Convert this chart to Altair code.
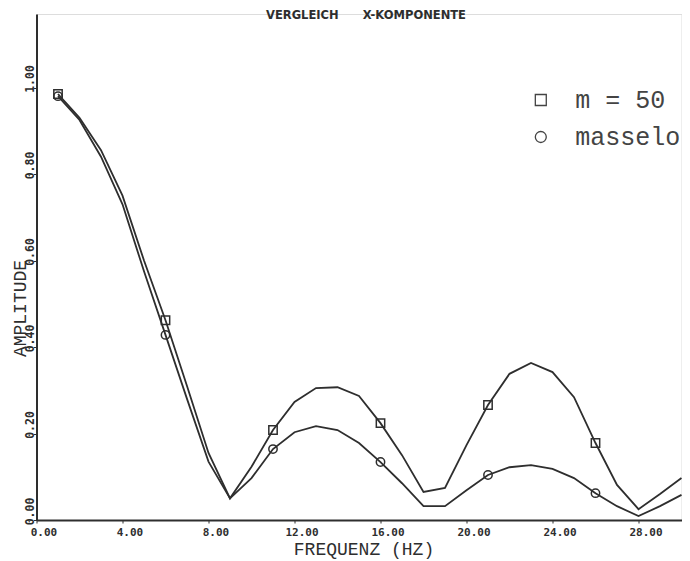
import altair as alt
import pandas as pd

# ---- data ----
freq = list(range(1, 31))
m50 = [0.985, 0.93, 0.855, 0.75, 0.60, 0.462, 0.31, 0.155, 0.05, 0.123,
       0.208, 0.273, 0.305, 0.307, 0.287, 0.224, 0.15, 0.065, 0.074, 0.173,
       0.266, 0.338, 0.363, 0.342, 0.284, 0.178, 0.081, 0.025, 0.060, 0.097]
masselo = [0.98, 0.925, 0.84, 0.73, 0.575, 0.428, 0.28, 0.135, 0.05, 0.097,
           0.164, 0.203, 0.217, 0.208, 0.178, 0.134, 0.085, 0.032, 0.032, 0.069,
           0.104, 0.122, 0.127, 0.118, 0.097, 0.062, 0.032, 0.009, 0.032, 0.058]
series_names = ["m = 50", "masselo"]
marker_freq = [1, 6, 11, 16, 21, 26]
x_ticks = [0, 4, 8, 12, 16, 20, 24, 28]
y_ticks = [0.0, 0.2, 0.4, 0.6, 0.8, 1.0]
title_text = "VERGLEICH" + "\u00a0" * 6 + "X-KOMPONENTE"

rows = []
for name, vals in zip(series_names, [m50, masselo]):
    for f, v in zip(freq, vals):
        rows.append({"freq": f, "amp": v, "series": name, "marker": f in marker_freq})
df = pd.DataFrame(rows)

INK = "#2e2e2e"

x_enc = alt.X(
    "freq:Q",
    scale=alt.Scale(domain=[0, 30], nice=False, zero=False),
    axis=alt.Axis(
        values=x_ticks, format=".2f", title="FREQUENZ (HZ)",
        labelFont="DejaVu Sans Mono", labelFontWeight="bold", labelFontSize=11,
        labelColor=INK, labelOffset=7, labelFlush=False, labelPadding=3,
        labelBaseline="top",
        tickSize=3, tickColor=INK, domainColor=INK, domainWidth=2,
        titleFont="Liberation Mono", titleFontSize=18, titleFontWeight="normal",
        titleColor=INK, titleX=327, titleY=34, titleBaseline="alphabetic",
        titleAlign="center", grid=False,
    ),
)
y_enc = alt.Y(
    "amp:Q",
    scale=alt.Scale(domain=[0, 1.17], nice=False),
    axis=alt.Axis(
        values=y_ticks, format=".2f", title="AMPLITUDE",
        labelFont="DejaVu Sans Mono", labelFontWeight="bold", labelFontSize=11.5,
        labelColor=INK, labelAngle=270, labelAlign="center",
        labelBaseline="alphabetic", labelPadding=0, labelOffset=-9,
        tickSize=3, tickColor=INK, domainColor=INK, domainWidth=2,
        titleFont="Liberation Mono", titleFontSize=18, titleFontWeight="normal",
        titleColor=INK, titleAngle=270, titleAlign="center",
        titleBaseline="alphabetic", titleX=-11.5, titleY=294, grid=False,
    ),
)

base = alt.Chart(df)

lines = base.mark_line(color=INK, strokeWidth=1.8).encode(
    x=x_enc, y=y_enc, detail="series:N", order="freq:Q"
)

points = base.transform_filter(alt.datum.marker).mark_point(
    filled=False, color=INK, strokeWidth=1.5, size=70, opacity=1
).encode(
    x="freq:Q",
    y="amp:Q",
    shape=alt.Shape(
        "series:N",
        scale=alt.Scale(domain=series_names, range=["square", "circle"]),
        legend=alt.Legend(
            title=None, orient="none", legendX=491.8, legendY=73.5,
            labelFont="Liberation Mono", labelFontSize=25, labelColor="#444",
            labelOffset=22, symbolSize=120, symbolStrokeWidth=1.3,
            symbolStrokeColor="#444", symbolFillColor="transparent",
            rowPadding=11, padding=0,
        ),
    ),
)

chart = alt.layer(lines, points).properties(
    width=645,
    height=506,
    title=alt.TitleParams(
        title_text, font="DejaVu Sans", fontWeight="bold", fontSize=11.5,
        color=INK, anchor="middle", offset=0, baseline="alphabetic", dy=16, dx=7,
    ),
    autosize=alt.AutoSizeParams(type="none"),
    padding={"left": 28.5, "top": 6, "right": 0, "bottom": 42},
).configure_view(stroke=None).configure(background="white")

chart.save("out.html", embed_options={"renderer": "svg", "actions": False})
